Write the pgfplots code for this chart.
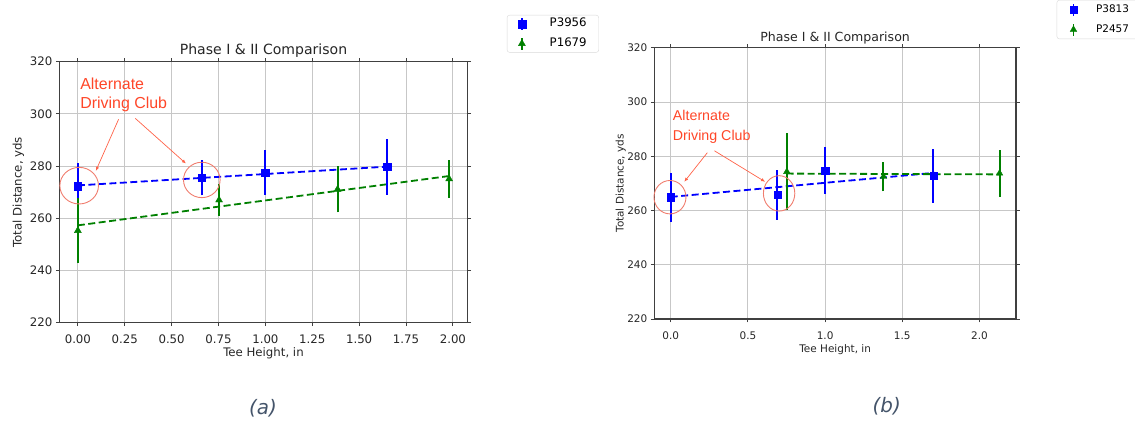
\documentclass[border=0pt]{standalone}
\usepackage{pgfplots}
\pgfplotsset{compat=1.18}
\usepackage{fontspec}
\setmainfont{DejaVu Sans}
\newfontfamily\annfont{Liberation Sans}
\usetikzlibrary{arrows.meta}
\definecolor{mplblue}{RGB}{0,0,255}
\definecolor{mplgreen}{RGB}{0,128,0}
\definecolor{annred}{RGB}{255,70,40}
\definecolor{circred}{RGB}{240,125,110}
\definecolor{capcol}{RGB}{68,84,106}
\pgfplotsset{
  common/.style={
    scale only axis, anchor=south west, clip=false,
    grid=major, grid style={black!22, line width=0.9bp},
    axis line style={black!75, line width=1.1bp},
    tick align=outside, major tick length=3.5bp,
    tick style={black!75, line width=0.9bp},
    /pgf/number format/assume math mode=true,
    ymin=220, ymax=320, ytick={220,240,...,320},
    xticklabel style={yshift=-5.5bp},
    unbounded coords=jump,
  },
  fitline/.style={dash pattern=on 7bp off 3.5bp, line width=1.8bp, forget plot},
  ebar/.style={#1, solid, line width=2bp, forget plot},
  ebleg/.style={legend image code/.code={\draw[#1, line width=1.6bp] (0.3cm,-6bp)--(0.3cm,6bp); \draw[##1] plot coordinates {(0.3cm,0cm)};}},
}
\begin{document}
\begin{tikzpicture}
\useasboundingbox (0,0) rectangle (1135bp,423bp);
% ---------------- (a)
\begin{axis}[common,
  at={(59.3bp,100.3bp)}, width=408.4bp, height=261bp,
  xmin=-0.099, xmax=2.079,
  xtick={0,0.25,0.5,0.75,1,1.25,1.5,1.75,2},
  xticklabels={0.00,0.25,0.50,0.75,1.00,1.25,1.50,1.75,2.00},
  ticklabel style={font=\fontsize{11.8}{14}\selectfont, black!85},
  title={Phase I \& II Comparison},
  title style={font=\fontsize{14.1}{16}\selectfont, black!85, yshift=-5bp},
  xlabel={Tee Height, in}, ylabel={Total Distance, yds},
  label style={font=\fontsize{11.8}{14}\selectfont, black!85},
  xlabel style={at={(axis description cs:0.5,-0.117)}, anchor=center},
  ylabel style={at={(axis description cs:-0.1004,0.5)}, anchor=center},
  legend style={at={(axis description cs:1.096,1.179)}, anchor=north west,
    draw=black!15, rounded corners=2.5bp, fill=white,
    font=\fontsize{11.8}{13}\selectfont, inner xsep=11bp, inner ysep=2bp,
    row sep=6bp, nodes={inner sep=1bp, text height=8.5bp, text depth=2.5bp},
    /tikz/every odd column/.append style={column sep=23bp}},
  legend cell align=left,
]
\addplot[mplblue, fitline] coordinates {(0,272.6) (1.65,279.8)};
\addplot[mplgreen, fitline] coordinates {(0,257.3) (1.98,276.2)};
% error bars (low/high)
\addplot[ebar=mplblue] coordinates {(0,263.7) (0,281.1) (0,nan) (0.661,268.8) (0.661,282.4) (0.661,nan) (1.0,269.0) (1.0,286.0) (1.0,nan) (1.651,269.0) (1.651,290.4)};
\addplot[ebar=mplgreen] coordinates {(0,242.8) (0,267.8) (0,nan) (0.753,261.0) (0.753,273.0) (0.753,nan) (1.385,262.3) (1.385,279.9) (1.385,nan) (1.98,267.8) (1.98,282.4)};
\addplot[mplblue, only marks, mark=square*, mark size=3.8bp, ebleg=mplblue]
  coordinates {(0,272.4) (0.661,275.6) (1.0,277.5) (1.651,279.7)};
\addlegendentry{P3956}
\addplot[mplgreen, only marks, mark=triangle*, mark size=4bp, ebleg=mplgreen]
  coordinates {(0,255.3) (0.753,267.0) (1.385,271.1) (1.98,275.1)};
\addlegendentry{P1679}
\node[annred, font=\annfont\fontsize{16}{19.4}\selectfont, align=left, anchor=west, inner sep=0pt] at (axis cs:0.012,307.2) {Alternate\\Driving Club};
\draw[circred, line width=0.9bp] (axis cs:0.007,272.5) ellipse [x radius=19.3bp, y radius=18.3bp];
\draw[circred, line width=0.9bp] (axis cs:0.661,274.7) ellipse [x radius=18.3bp, y radius=17.7bp];
\draw[annred!85, line width=0.7bp, -{Latex[length=4bp,width=3.5bp]}] (axis cs:0.217,297.9) -- (axis cs:0.096,278.2);
\draw[annred!85, line width=0.7bp, -{Latex[length=4bp,width=3.5bp]}] (axis cs:0.306,298.3) -- (axis cs:0.576,281);
\end{axis}
% ---------------- (b)
\begin{axis}[common,
  at={(654.3bp,104bp)}, width=361.7bp, height=271.3bp,
  xmin=-0.1065, xmax=2.2365,
  xtick={0,0.5,1,1.5,2},
  xticklabels={0.0,0.5,1.0,1.5,2.0},
  ticklabel style={font=\fontsize{10.5}{12.5}\selectfont, black!85},
  title={Phase I \& II Comparison},
  title style={font=\fontsize{12.6}{15}\selectfont, black!85, yshift=-5.5bp},
  xlabel={Tee Height, in}, ylabel={Total Distance, yds},
  label style={font=\fontsize{10.5}{12.5}\selectfont, black!85},
  xlabel style={at={(axis description cs:0.5,-0.114)}, anchor=center},
  ylabel style={at={(axis description cs:-0.093,0.5)}, anchor=center},
  legend style={at={(axis description cs:1.1125,1.1758)}, anchor=north west,
    draw=black!15, rounded corners=2.5bp, fill=white,
    font=\fontsize{10.5}{12}\selectfont, inner xsep=13bp, inner ysep=2.5bp,
    row sep=6.5bp, nodes={inner sep=1bp, text height=8bp, text depth=2.5bp},
    /tikz/every odd column/.append style={column sep=18bp}},
  legend cell align=left,
]
\addplot[mplblue, fitline] coordinates {(0,265.0) (1.71,273.9)};
\addplot[mplgreen, fitline] coordinates {(0.75,273.6) (2.13,273.3)};
\addplot[ebar=mplblue] coordinates {(0,255.9) (0,273.9) (0,nan) (0.691,256.6) (0.691,274.8) (0.691,nan) (1.0,266.1) (1.0,283.3) (1.0,nan) (1.702,262.8) (1.702,282.6)};
\addplot[ebar=mplgreen] coordinates {(0.752,260.1) (0.752,288.5) (0.752,nan) (1.378,267.0) (1.378,278.0) (1.378,nan) (2.13,265.1) (2.13,282.3)};
\addplot[mplblue, only marks, mark=square*, mark size=3.6bp, ebleg=mplblue]
  coordinates {(0,264.9) (0.691,265.7) (1.0,274.7) (1.702,272.7)};
\addlegendentry{P3813}
\addplot[mplgreen, only marks, mark=triangle*, mark size=3.8bp, ebleg=mplgreen]
  coordinates {(0.752,274.3) (1.378,272.5) (2.13,273.7)};
\addlegendentry{P2457}
\node[annred, font=\annfont\fontsize{14.3}{20}\selectfont, align=left, anchor=west, inner sep=0pt] at (axis cs:0.013,290.8) {Alternate\\Driving Club};
\draw[circred, line width=0.9bp] (axis cs:-0.005,264.9) ellipse [x radius=16bp, y radius=16.7bp];
\draw[circred, line width=0.9bp] (axis cs:0.702,266.3) ellipse [x radius=15.7bp, y radius=17.7bp];
\draw[annred!85, line width=0.7bp, -{Latex[length=4bp,width=3.5bp]}] (axis cs:0.237,281.3) -- (axis cs:0.088,270.6);
\draw[annred!85, line width=0.7bp, -{Latex[length=4bp,width=3.5bp]}] (axis cs:0.283,282) -- (axis cs:0.611,270.6);
\end{axis}
\node[capcol, font=\fontsize{20}{24}\selectfont\itshape] at (263bp,15bp) {(a)};
\node[capcol, font=\fontsize{20}{24}\selectfont\itshape] at (886.7bp,16.3bp) {(b)};
\end{tikzpicture}
\end{document}
